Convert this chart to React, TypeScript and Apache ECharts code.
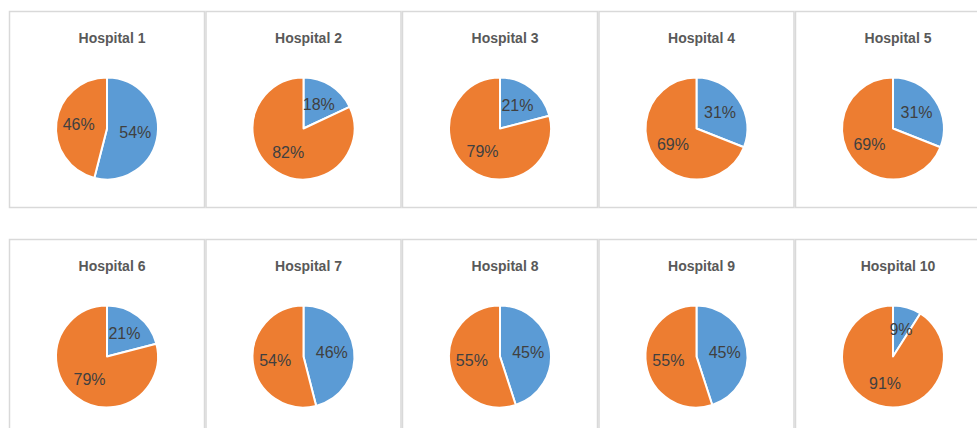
import React, { useEffect, useRef } from "react";
import * as echarts from "echarts";

const hospitals = [
  "Hospital 1", "Hospital 2", "Hospital 3", "Hospital 4", "Hospital 5",
  "Hospital 6", "Hospital 7", "Hospital 8", "Hospital 9", "Hospital 10",
];
const blueValues = [54, 18, 21, 31, 31, 21, 46, 45, 45, 9];
const orangeValues = [46, 82, 79, 69, 69, 79, 54, 55, 55, 91];

const BLUE = "#5B9BD5";
const ORANGE = "#ED7D31";

export default function App() {
  const ref = useRef<HTMLDivElement>(null);
  useEffect(() => {
    if (!ref.current) return;
    const chart = echarts.init(ref.current, null, { renderer: "svg" });
    const pitch = 196.5;
    const boxLeft0 = 9;
    const rowTops = [11, 239];
    const boxW = 195;
    const boxH = 196;

    const graphics: any[] = [];
    const titles: any[] = [];
    const series: any[] = [];

    hospitals.forEach((name, i) => {
      const c = i % 5;
      const r = Math.floor(i / 5);
      const left = boxLeft0 + c * pitch;
      const top = rowTops[r];
      const cx = left + 98;
      graphics.push({
        type: "rect",
        shape: { x: left + 0.5, y: top + 0.5, width: boxW, height: boxH },
        style: { fill: "#fff", stroke: "#d9d9d9", lineWidth: 1.5 },
        z: -10,
      });
      titles.push({
        text: name,
        left: cx,
        top: top + 15,
        textAlign: "center",
        textStyle: {
          fontFamily: "Liberation Sans",
          fontSize: 14,
          fontWeight: "bold",
          color: "#595959",
        },
      });
      series.push({
        type: "pie",
        center: [cx, top + 117.5],
        radius: 51,
        startAngle: 90,
        clockwise: true,
        silent: true,
        itemStyle: { borderColor: "#fff", borderWidth: 2 },
        label: {
          show: true,
          position: "inside",
          formatter: "{c}%",
          fontFamily: "Liberation Sans",
          fontSize: 16,
          color: "#404040",
        },
        labelLine: { show: false },
        data: [
          { name: "Blue", value: blueValues[i], itemStyle: { color: BLUE } },
          { name: "Orange", value: orangeValues[i], itemStyle: { color: ORANGE } },
        ],
      });
    });

    chart.setOption({
      animation: false,
      backgroundColor: "#ffffff",
      title: titles,
      graphic: graphics,
      series,
    });
    return () => chart.dispose();
  }, []);
  return (
    <div
      ref={ref}
      style={{ position: "absolute", left: 0, top: 0, width: 977, height: 428 }}
    />
  );
}
